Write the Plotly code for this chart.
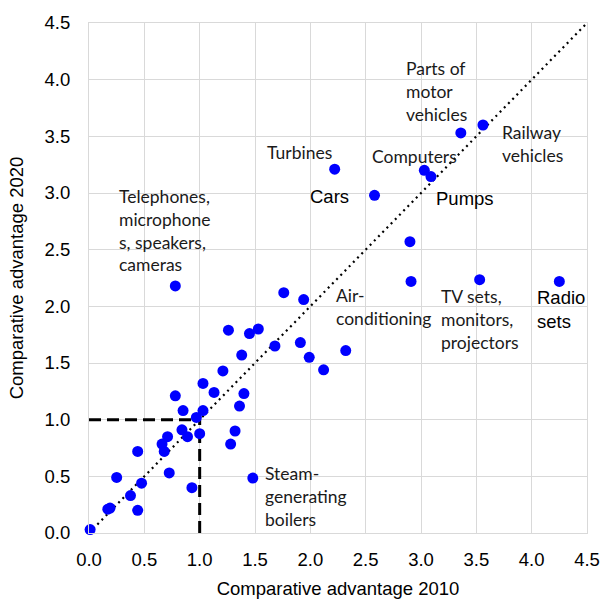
import plotly.graph_objects as go

# Comparative advantage values
x2010 = [0.01, 0.17, 0.19, 0.25, 0.375, 0.44, 0.475, 0.44, 0.66, 0.68,
         0.71, 0.725, 0.78, 0.78, 0.85, 0.84, 0.89, 0.93, 0.97, 1.00,
         1.03, 1.03, 1.13, 1.21, 1.26, 1.28, 1.32, 1.36, 1.40, 1.38,
         1.45, 1.53, 1.48, 1.68, 1.76, 1.94, 1.91, 1.99, 2.12, 2.32,
         2.22, 2.58, 3.03, 3.09, 3.36, 3.56, 2.90, 2.91, 3.53, 4.25]
y2020 = [0.03, 0.21, 0.22, 0.49, 0.33, 0.20, 0.44, 0.72, 0.785, 0.72,
         0.85, 0.53, 1.21, 2.18, 1.08, 0.91, 0.85, 0.40, 1.02, 0.876,
         1.08, 1.32, 1.24, 1.43, 1.79, 0.785, 0.90, 1.12, 1.23, 1.57,
         1.76, 1.80, 0.485, 1.65, 2.12, 2.06, 1.68, 1.55, 1.44, 1.61,
         3.21, 2.98, 3.20, 3.145, 3.53, 3.60, 2.57, 2.22, 2.235, 2.22]

diag = [0, 4.5]
ref_h_x = [0, 1]
ref_h_y = [1, 1]
ref_v_x = [1, 1]
ref_v_y = [0, 1]

tick_vals = [0.0, 0.5, 1.0, 1.5, 2.0, 2.5, 3.0, 3.5, 4.0, 4.5]
tick_text = ["0.0", "0.5", "1.0", "1.5", "2.0", "2.5", "3.0", "3.5", "4.0", "4.5"]

# label text, font style ("c" = Calibri-like, "a" = Arial-like)
labels = [
    ("Turbines", 1.59, 3.357, "c"),
    ("Cars", 1.98, 2.97, "a"),
    ("Telephones,<br>microphone<br>s, speakers,<br>cameras", 0.25, 2.666, "c"),
    ("Parts of<br>motor<br>vehicles", 2.85, 3.90, "c"),
    ("Computers", 2.54, 3.32, "c"),
    ("Railway<br>vehicles", 3.71, 3.43, "c"),
    ("Pumps", 3.12, 2.95, "a"),
    ("Air-<br>conditioning", 2.21, 1.99, "c"),
    ("TV sets,<br>monitors,<br>projectors", 3.16, 1.88, "c"),
    ("Radio<br>sets", 4.03, 1.97, "a"),
    ("Steam-<br>generating<br>boilers", 1.57, 0.32, "c"),
]

ARIAL = "Liberation Sans, Arial, sans-serif"
CALIBRI = "Lato, Carlito, Calibri, sans-serif"

fig = go.Figure()
fig.add_trace(go.Scatter(x=diag, y=diag, mode="lines",
                         line=dict(color="black", width=2.2, dash="2px,4px"),
                         hoverinfo="skip", showlegend=False))
fig.add_trace(go.Scatter(x=ref_h_x, y=ref_h_y, mode="lines",
                         line=dict(color="black", width=3, dash="12px,6px"),
                         hoverinfo="skip", showlegend=False))
fig.add_trace(go.Scatter(x=ref_v_x, y=ref_v_y, mode="lines",
                         line=dict(color="black", width=3, dash="12px,6px"),
                         hoverinfo="skip", showlegend=False))
fig.add_trace(go.Scatter(x=x2010, y=y2020, mode="markers",
                         marker=dict(color="#0000FF", size=11, line=dict(width=0)),
                         showlegend=False, cliponaxis=False))

for text, lx, ly, style in labels:
    fig.add_annotation(x=lx, y=ly, text=text, showarrow=False,
                       xanchor="left", yanchor="middle", align="left",
                       font=dict(family=CALIBRI if style == "c" else ARIAL,
                                 size=17.5 if style == "c" else 18.5,
                                 color="#1a1a1a" if style == "c" else "black"))

axis_common = dict(range=[0, 4.5], tickvals=tick_vals, ticktext=tick_text,
                   showgrid=True, gridcolor="#d9d9d9", gridwidth=1,
                   zeroline=False, showline=True, linecolor="#d9d9d9",
                   linewidth=1, mirror=True, ticks="", automargin=False,
                   tickfont=dict(family=ARIAL, size=18.5, color="black"))

fig.update_layout(
    width=601, height=599,
    margin=dict(l=89, r=14, t=23, b=66),
    paper_bgcolor="white", plot_bgcolor="white",
    xaxis=dict(**axis_common,
               title=dict(text="Comparative advantage 2010",
                          font=dict(family=ARIAL, size=18.5, color="black"),
                          standoff=14),
               ticklabelstandoff=10),
    yaxis=dict(**axis_common,
               title=dict(text="Comparative advantage 2020",
                          font=dict(family=ARIAL, size=18.5, color="black"),
                          standoff=16),
               ticklabelstandoff=14),
)

fig.write_html("out.html",
               config={"displayModeBar": False},
               post_script="document.body.style.margin='0';document.body.style.overflow='hidden';")
